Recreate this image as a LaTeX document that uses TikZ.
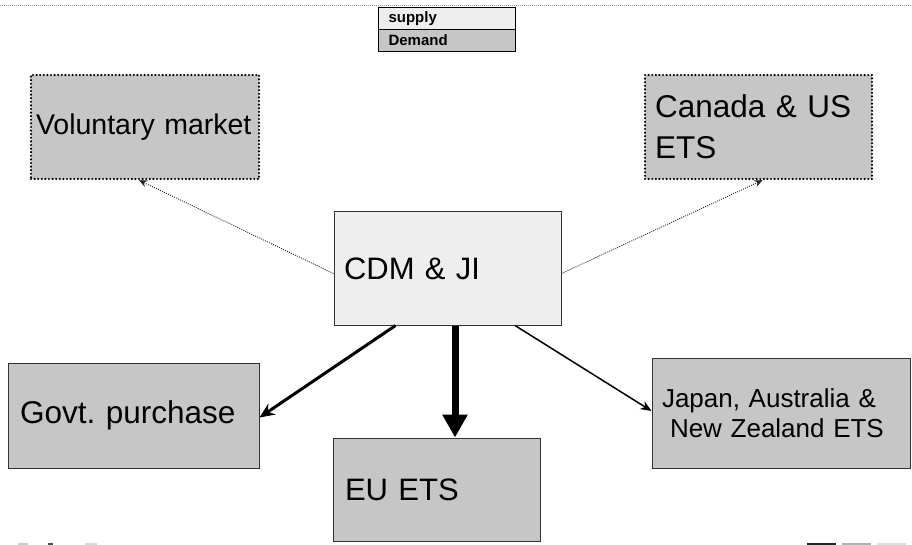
\documentclass[tikz,border=0pt]{standalone}
\usepackage{fontspec}
\setmainfont{Liberation Sans}
\usetikzlibrary{arrows.meta}
\definecolor{dkfill}{HTML}{C6C6C6}
\definecolor{ltfill}{HTML}{EEEEEE}
\frenchspacing
\tikzset{
  darkbox/.style={draw=black!80, line width=1pt, fill=dkfill, rectangle, anchor=center, align=left, inner ysep=0pt},
  lightbox/.style={draw=black!80, line width=1pt, fill=ltfill, rectangle, anchor=center, align=left, inner ysep=0pt},
  dotbox/.style={draw=black, line width=2.4pt, dash pattern=on 0pt off 3.6pt, line cap=round, fill=dkfill, rectangle, anchor=center, align=left, inner ysep=0pt},
  dotlink/.style={draw=black!85, line width=0.9pt, dash pattern=on 1pt off 1.2pt, -{Stealth[length=8pt,width=7pt]}},
  legcell/.style={draw=black, line width=1pt, rectangle, anchor=west, minimum width=137pt, minimum height=22pt, inner xsep=10pt, text width=117pt, align=left, font=\fontsize{15}{17}\selectfont\bfseries},
}
\begin{document}
\begin{tikzpicture}[x=1pt,y=-1pt]
\useasboundingbox (0,0) rectangle (912,545);
% top dotted rule
\coordinate (ruleL) at (0,5);
\coordinate (ruleR) at (912,5);
\draw[gray!80, line width=0.8pt, dash pattern=on 1pt off 1pt] (ruleL) -- (ruleR);
% legend
\node[legcell, fill=ltfill] (supply) at (378,18.5) {supply};
\node[legcell, fill=dkfill] (demand) at (378,40.5) {Demand};
% boxes
\node[dotbox, minimum width=228pt, minimum height=104pt, text width=218pt, inner xsep=5pt, font=\fontsize{28.5}{34}\selectfont] (vol) at (145,127) {Voluntary market};
\node[dotbox, minimum width=227pt, minimum height=104pt, text width=207pt, inner xsep=10pt, font=\fontsize{31.5}{41}\selectfont] (can) at (758.5,127) {Canada \& US\\ETS};
\node[lightbox, minimum width=227pt, minimum height=113pt, text width=207pt, inner xsep=10pt, font=\fontsize{31}{38}\selectfont] (cdm) at (447.5,268.5) {CDM \& JI};
\node[darkbox, minimum width=251pt, minimum height=105pt, text width=227pt, inner xsep=12pt, font=\fontsize{31.5}{38}\selectfont] (govt) at (133.5,415.5) {Govt. purchase};
\node[darkbox, minimum width=207pt, minimum height=103pt, text width=183pt, inner xsep=12pt, font=\fontsize{31}{37}\selectfont] (eu) at (436.5,489.5) {EU ETS};
\node[darkbox, minimum width=258pt, minimum height=110pt, text width=238pt, inner xsep=10pt, font=\fontsize{26}{30}\selectfont] (jap) at (781,413) {Japan, Australia \&\\\hspace*{8pt}New Zealand ETS};
% connectors
\draw[dotlink] ([yshift=-5pt]cdm.west) -- ([xshift=-6pt]vol.south);
\draw[dotlink] ([yshift=-5pt]cdm.east) -- ([xshift=4pt]can.south);
\draw[line width=3pt, -{Stealth[length=15pt,width=13pt]}] ([xshift=-52pt]cdm.south) -- ([yshift=-2pt]govt.east);
\draw[line width=7pt, -{Triangle[length=23pt,width=24pt]}] ([xshift=7.5pt]cdm.south) -- ([xshift=18.5pt]eu.north);
\draw[line width=1.5pt, -{Stealth[length=11pt,width=9pt]}] ([xshift=67.5pt]cdm.south) -- ([yshift=2pt]jap.west);
% cropped marks at bottom edge
\fill[gray!40] (18,542.5) rectangle (28,545);
\fill[black!70] (48,542.5) rectangle (53,545);
\fill[gray!30] (85,542.5) rectangle (97,545);
\fill[black!85] (807,542.5) rectangle (836,545);
\fill[gray!60] (842,542.5) rectangle (871,545);
\fill[gray!25] (877,542.5) rectangle (906,545);
\end{tikzpicture}
\end{document}
